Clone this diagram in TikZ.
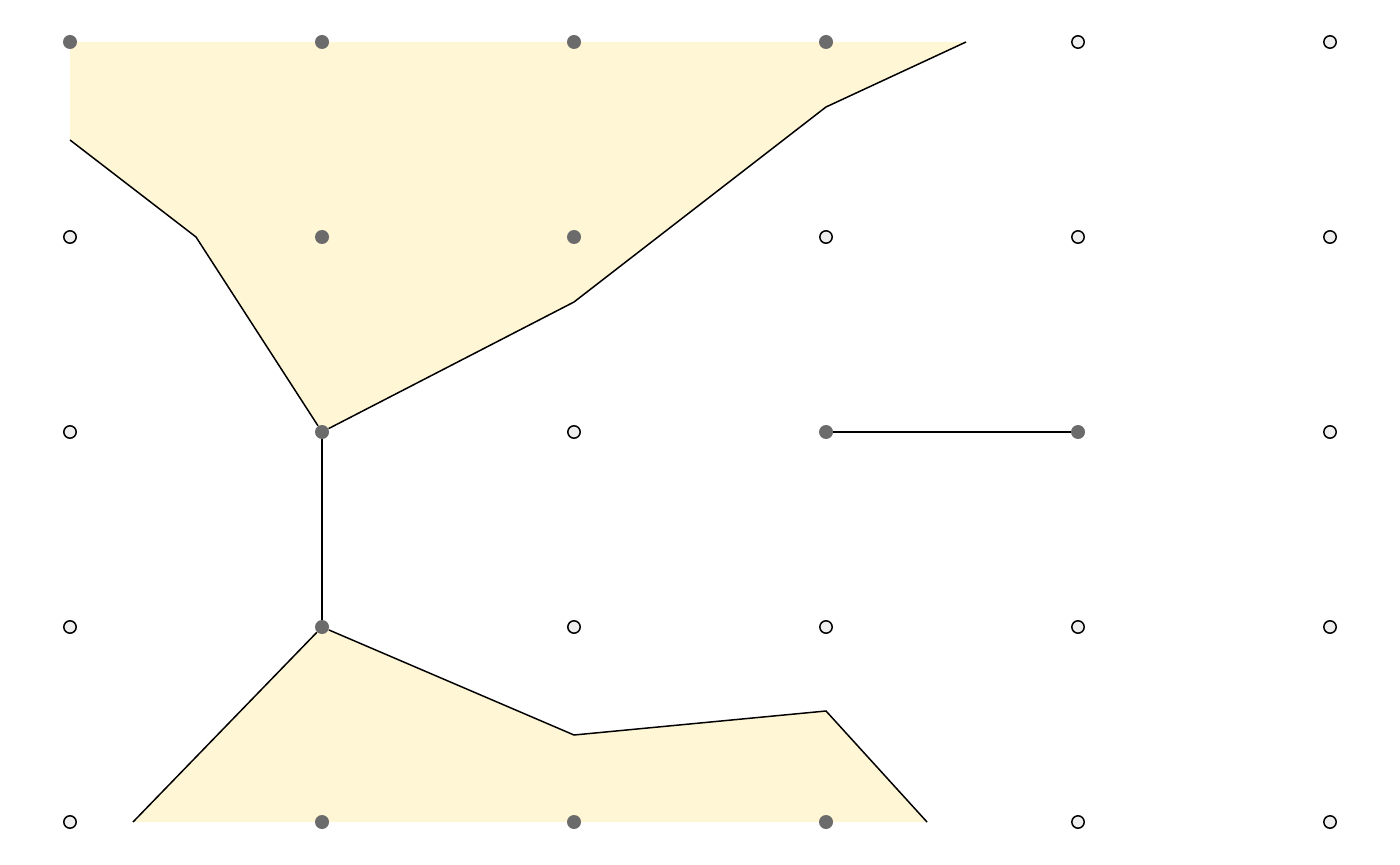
\documentclass[tikz,border=0pt]{standalone}
\usepackage{xcolor}
\usepackage{tikz}
\usetikzlibrary{backgrounds}
\definecolor{regionfill}{RGB}{255, 246, 213}
\definecolor{dotgray}{RGB}{107, 107, 107}
\definecolor{opengray}{RGB}{238, 238, 238}

\begin{document}
\begin{tikzpicture}[
  x=0.5pt, y=-0.5pt,
  inside/.style={circle, fill=dotgray, inner sep=0pt, minimum size=7pt},
  outside/.style={circle, draw=black, fill=opengray, line width=0.75pt, inner sep=0pt, minimum size=6.2pt},
  contour/.style={black, line width=0.75pt, line join=miter}
]
  \useasboundingbox (0,0) rectangle (1400,865);

  % Grid points
  \foreach \c/\r/\kind in {
      0/0/inside, 1/0/inside, 2/0/inside, 3/0/inside, 4/0/outside, 5/0/outside,
      0/1/outside, 1/1/inside, 2/1/inside, 3/1/outside, 4/1/outside, 5/1/outside,
      0/2/outside, 1/2/inside, 2/2/outside, 3/2/inside, 4/2/inside, 5/2/outside,
      0/3/outside, 1/3/inside, 2/3/outside, 3/3/outside, 4/3/outside, 5/3/outside,
      0/4/outside, 1/4/inside, 2/4/inside, 3/4/inside, 4/4/outside, 5/4/outside}
    \node[\kind] (p\c\r) at ({70+252*\c},{42+195*\r}) {};

  % Contour vertices
  \coordinate (t1) at (70,140);
  \coordinate (t2) at (196,237);
  \coordinate (t4) at (574,302);
  \coordinate (t5) at (826,107);
  \coordinate (t6) at (966,42);
  \coordinate (b1) at (133,822);
  \coordinate (b3) at (574,735);
  \coordinate (b4) at (826,711);
  \coordinate (b5) at (927,822);

  % Regions
  \begin{scope}[on background layer]
    \fill[regionfill] (p00.center) -- (t6) -- (t5) -- (t4) -- (p12.center) -- (t2) -- (t1) -- cycle;
    \fill[regionfill] (b1) -- (p13.center) -- (b3) -- (b4) -- (b5) -- cycle;
  \end{scope}

  % Paths
  \draw[contour] (t1) -- (t2) -- (p12) -- (t4) -- (t5) -- (t6);
  \draw[contour] (b1) -- (p13) -- (b3) -- (b4) -- (b5);
  \draw[contour] (p12) -- (p13);
  \draw[contour] (p32) -- (p42);
\end{tikzpicture}
\end{document}
